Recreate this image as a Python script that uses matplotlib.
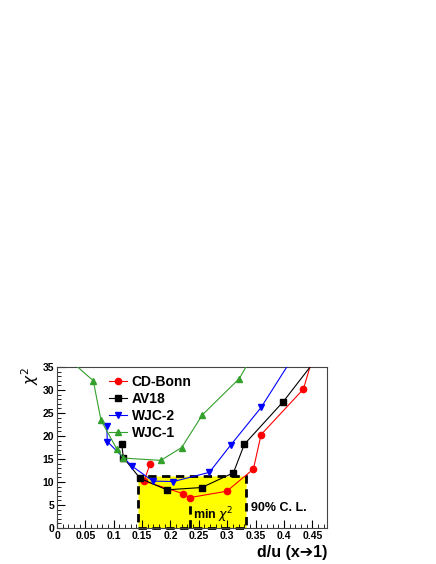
import matplotlib
matplotlib.use("Agg")
import matplotlib.pyplot as plt
from matplotlib.patches import Rectangle
from matplotlib.ticker import MultipleLocator

plt.rcParams['font.family'] = ['Liberation Sans', 'DejaVu Sans']
plt.rcParams['mathtext.fontset'] = 'dejavusans'

# ---- data (d/u, chi^2) ----
cdbonn_x = [0.164, 0.1534, 0.2217, 0.2337, 0.2993, 0.3462, 0.3598, 0.4344, 0.45]
cdbonn_y = [13.9, 10.2, 7.5, 6.6, 8.0, 12.8, 20.3, 30.2, 36.7]

av18_x = [0.1141, 0.117, 0.1464, 0.1935, 0.2552, 0.311, 0.3303, 0.3991, 0.46]
av18_y = [18.2, 15.3, 10.8, 8.3, 8.8, 12.0, 18.2, 27.5, 37.2]

wjc2_x = [0.0877, 0.0887, 0.1317, 0.1688, 0.2051, 0.2686, 0.306, 0.3598, 0.42]
wjc2_y = [22.2, 18.8, 13.5, 10.2, 10.1, 12.1, 18.0, 26.2, 37.9]

wjc1_x = [0.02, 0.064, 0.0776, 0.1053, 0.117, 0.1829, 0.2199, 0.2563, 0.3215, 0.36]
wjc1_y = [36.8, 32.0, 23.4, 17.2, 15.2, 14.7, 17.5, 24.6, 32.5, 40.8]

series_labels = ["CD-Bonn", "AV18", "WJC-2", "WJC-1"]
series_colors = ["#ff0000", "#000000", "#0000ff", "#33a02c"]
series_markers = ["o", "s", "v", "^"]

cl_xmin, cl_xmax, cl_chi2 = 0.1429, 0.333, 11.2
min_x, min_chi2 = 0.2337, 6.6

xlim = (0.0, 0.476)
ylim = (0.0, 35.0)

fig = plt.figure(figsize=(4.36, 5.64), dpi=100)
ax = fig.add_axes([57/436, 36/564, 270/436, 161/564])
ax.set_xlim(*xlim)
ax.set_ylim(*ylim)

# 90% CL box
ax.add_patch(Rectangle((cl_xmin, 0), cl_xmax - cl_xmin, cl_chi2,
                       facecolor='#ffff00', edgecolor='black', linestyle=(0, (3, 2)),
                       linewidth=2.0, zorder=1, clip_on=False))
ax.plot([min_x, min_x], [0, min_chi2], color='black', linestyle=(0, (3, 2)),
        linewidth=2.0, zorder=1)

handles = []
for xs, ys, lab, col, mk in zip([cdbonn_x, av18_x, wjc2_x, wjc1_x],
                                 [cdbonn_y, av18_y, wjc2_y, wjc1_y],
                                 series_labels, series_colors, series_markers):
    h, = ax.plot(xs, ys, color=col, marker=mk, markersize=4.5, linewidth=0.8,
                 label=lab, zorder=3, clip_on=True)
    handles.append(h)

ax.text(0.2400, 2.8, r"min $\chi^2$", fontsize=9, fontweight='bold', va='center', ha='left')
ax.text(0.3415, 4.3, "90% C. L.", fontsize=9, fontweight='bold', va='center', ha='left')

leg = fig.legend(handles=handles, loc='upper left', bbox_to_anchor=(102/436, 1 - 368/564),
                 frameon=False, prop={'weight': 'bold', 'size': 10},
                 handlelength=1.3, handletextpad=0.35, labelspacing=0.22, borderpad=0)

ax.xaxis.set_major_locator(MultipleLocator(0.05))
ax.xaxis.set_minor_locator(MultipleLocator(0.01))
ax.yaxis.set_major_locator(MultipleLocator(5))
ax.yaxis.set_minor_locator(MultipleLocator(1))
ax.set_xticks([0, 0.05, 0.1, 0.15, 0.2, 0.25, 0.3, 0.35, 0.4, 0.45])
ax.set_xticklabels(["0", "0.05", "0.1", "0.15", "0.2", "0.25", "0.3", "0.35", "0.4", "0.45"])
ax.tick_params(which='major', direction='in', length=6, width=0.8, labelsize=7.5, pad=2)
ax.tick_params(which='minor', direction='in', length=3, width=0.6)
for lbl in ax.get_xticklabels() + ax.get_yticklabels():
    lbl.set_fontweight('bold')
for sp in ax.spines.values():
    sp.set_linewidth(0.8)
    sp.set_color('#444444')

fig.text(327/436, 1 - 552/564, "d/u (x\u2794" + "1)", fontsize=11.5,
         fontweight='bold', ha='right', va='center',
         family=['Liberation Sans', 'DejaVu Sans'])
fig.text(30/436, 1 - 367/564, r"$\chi^2$", fontsize=11, rotation=90, ha='center', va='top')

fig.savefig("out.png", dpi=100)
